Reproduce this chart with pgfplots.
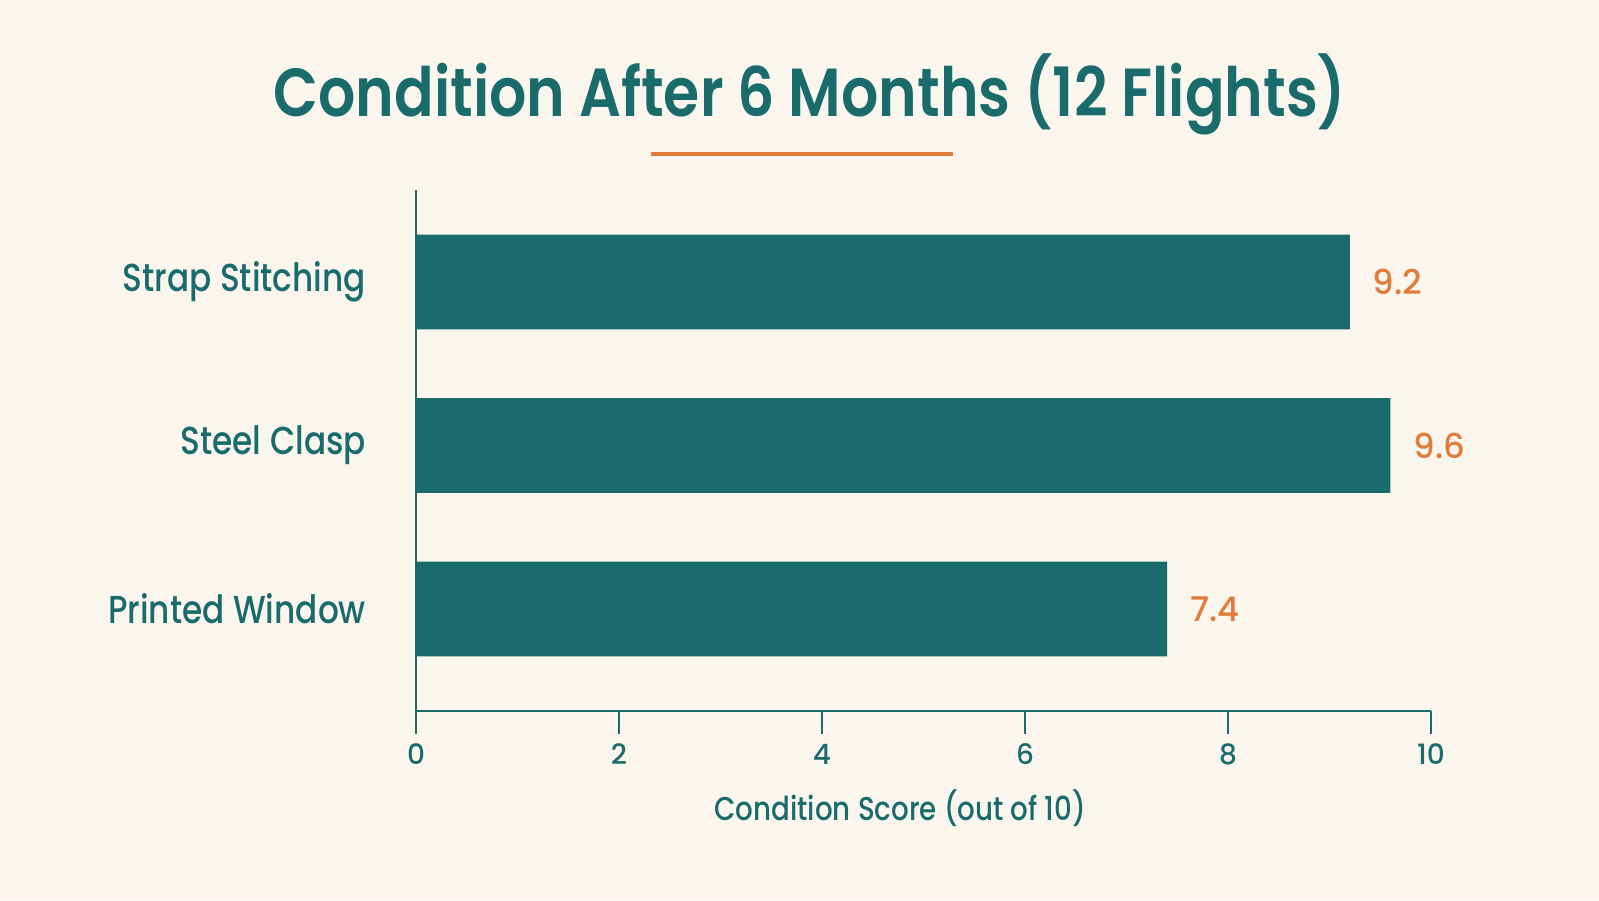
\documentclass[border=0pt]{standalone}
\usepackage{fontspec}
\setmainfont{Poppins}[BoldFont={Poppins SemiBold}]
\newfontfamily\titlefont{Poppins SemiBold}[FakeStretch=0.86]
\newfontfamily\medfont{Poppins Medium}[FakeStretch=0.84]
\newfontfamily\numfont{Poppins Medium}
\usepackage{pgfplots}
\pgfplotsset{compat=1.18}

\definecolor{bgcream}{RGB}{251,246,237}
\definecolor{teal}{RGB}{26,107,107}
\definecolor{accent}{RGB}{224,123,57}

\begin{document}
\begin{tikzpicture}[x=0.5pt,y=0.5pt]
  % canvas 1599 x 900 units
  \fill[bgcream] (0,0) rectangle (1599,900);
  \node[text=teal,font=\titlefont\fontsize{34}{40}\selectfont] at (810,806) {Condition After 6 Months (12 Flights)};
  \draw[accent,line width=2pt] (651,746) -- (953,746);

  \begin{axis}[
    at={(208pt,94.5pt)}, anchor=south west,
    scale only axis, width=507.5pt, height=260.5pt,
    xmin=0, xmax=10, ymin=-0.624, ymax=2.563,
    axis lines*=left,
    axis line style={teal,line width=1.25pt},
    xtick={0,2,4,6,8,10},
    xtick align=outside,
    major tick length=11.5pt,
    xtick style={teal,line width=1.25pt},
    ytick={0,1,2},
    yticklabels={Printed Window,Steel Clasp,Strap Stitching},
    ytick style={draw=none},
    yticklabel style={font=\medfont\fontsize{19.5}{22}\selectfont,text=teal,xshift=-10pt},
    xticklabel style={font=\numfont\fontsize{14}{16}\selectfont,text=teal,yshift=-1.5pt},
    /pgf/number format/assume math mode=true,
    xlabel={Condition Score (out of 10)},
    xlabel style={font=\medfont\fontsize{16.5}{19}\selectfont,text=teal,
      at={(axis cs:4.77,-0.624)},anchor=center,yshift=-48.5pt},
    xbar, bar width=0.58,
    nodes near coords,
    every node near coord/.append style={font=\numfont\fontsize{17}{19}\selectfont,text=accent,anchor=west,xshift=8pt},
    nodes near coords style={/pgf/number format/.cd,fixed,fixed zerofill,precision=1,assume math mode=true},
  ]
    \addplot[fill=teal,draw=none] coordinates {(7.4,0) (9.6,1) (9.2,2)};
  \end{axis}
\end{tikzpicture}
\end{document}
